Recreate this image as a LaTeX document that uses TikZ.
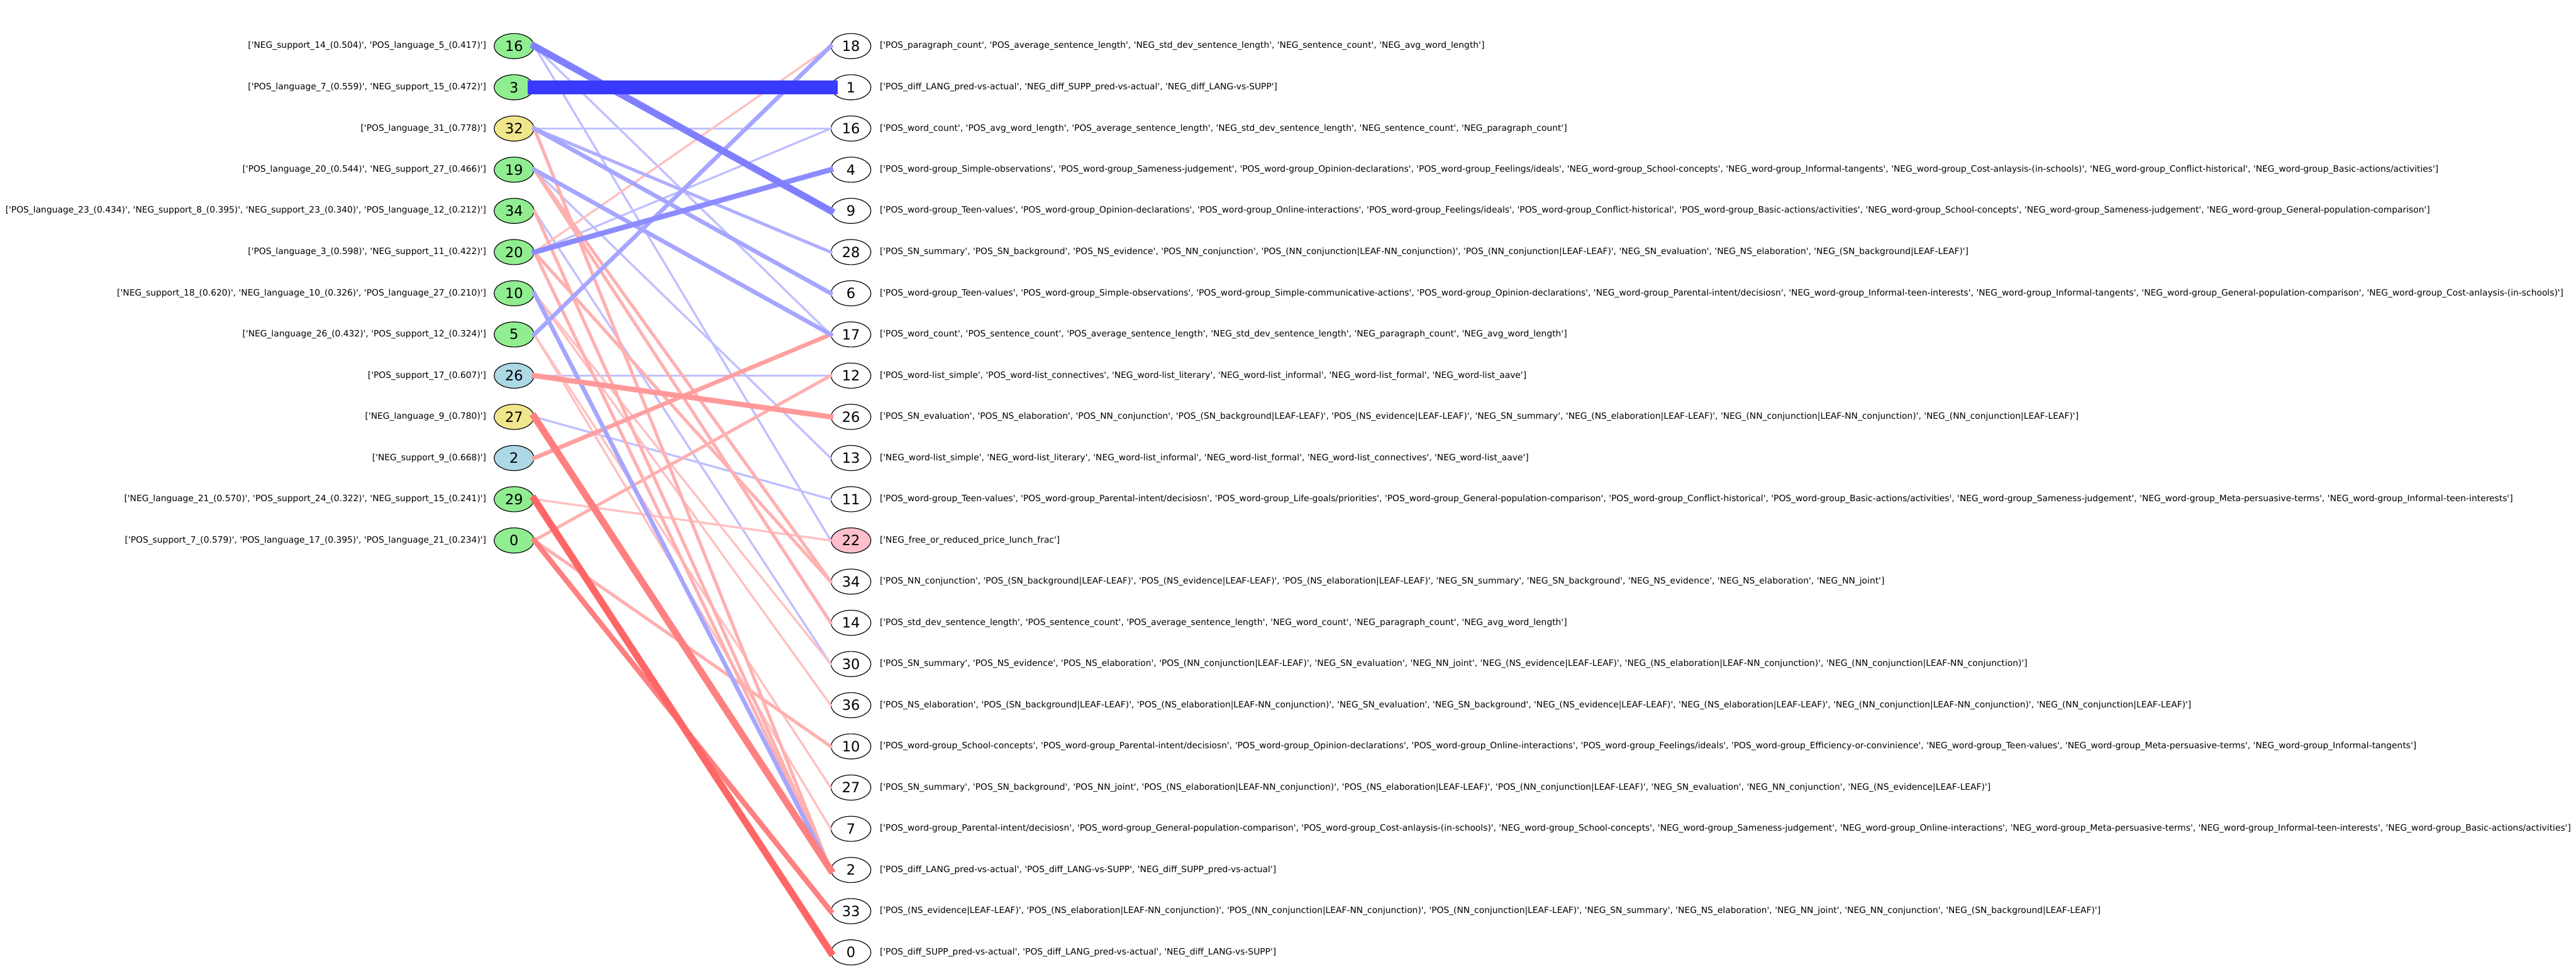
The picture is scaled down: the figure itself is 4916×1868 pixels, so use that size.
\documentclass[tikz,border=0pt]{standalone}
\usepackage{fontspec}
\newfontfamily\dv{DejaVu Sans}
\usetikzlibrary{shapes.geometric,positioning}
\definecolor{lgreen}{HTML}{90EE90}
\definecolor{lkhaki}{HTML}{F0E68C}
\definecolor{lblue}{HTML}{ADD8E6}
\definecolor{lpink}{HTML}{FFC0CB}
\definecolor{bA}{HTML}{C0C0FF}
\definecolor{bB}{HTML}{B0B0FF}
\definecolor{bC}{HTML}{A6A6FF}
\definecolor{bD}{HTML}{8C8CFF}
\definecolor{bE}{HTML}{8080FF}
\definecolor{bF}{HTML}{3A3AFF}
\definecolor{rA}{HTML}{FFC0C0}
\definecolor{rB}{HTML}{FFB0B0}
\definecolor{rC}{HTML}{FFA0A0}
\definecolor{rD}{HTML}{FF9999}
\definecolor{rE}{HTML}{FF8080}
\definecolor{rF}{HTML}{FF6666}
\begin{document}
\begin{tikzpicture}[x=0.5pt,y=-0.5pt,
  nd/.style={ellipse,draw=black,line width=0.7pt,minimum width=38pt,minimum height=24pt,inner sep=0pt,font=\dv\fontsize{13.5}{14}\selectfont},
  gn/.style={nd,fill=lgreen},
  kn/.style={nd,fill=lkhaki},
  bn/.style={nd,fill=lblue},
  wn/.style={nd,fill=white},
  pn/.style={nd,fill=lpink},
  labL/.style={inner sep=0pt,font=\dv\fontsize{8.3}{9}\selectfont},
  labR/.style={inner sep=0pt,font=\dv\fontsize{8.3}{9}\selectfont},
  ed/.style={line cap=rect},
  w1/.style={ed,line width=2pt},
  w2/.style={ed,line width=3pt},
  w3/.style={ed,line width=4pt},
  w4/.style={ed,line width=5pt},
  w5/.style={ed,line width=6.5pt},
  w6/.style={ed,line width=13pt}
]
\useasboundingbox (0,0) rectangle (4916,1868);
% left nodes
\node[gn] (l16) at (981,88) {16};
\node[gn] (l3) at (981,166.6) {3};
\node[kn] (l32) at (981,245.3) {32};
\node[gn] (l19) at (981,323.9) {19};
\node[gn] (l34) at (981,402.5) {34};
\node[gn] (l20) at (981,481.2) {20};
\node[gn] (l10) at (981,559.8) {10};
\node[gn] (l5) at (981,638.4) {5};
\node[bn] (l26) at (981,717.0) {26};
\node[kn] (l27) at (981,795.7) {27};
\node[bn] (l2) at (981,874.3) {2};
\node[gn] (l29) at (981,952.9) {29};
\node[gn] (l0) at (981,1031.6) {0};
% right nodes
\node[wn] (r18) at (1624,88) {18};
\node[wn] (r1) at (1624,166.6) {1};
\node[wn] (r16) at (1624,245.3) {16};
\node[wn] (r4) at (1624,323.9) {4};
\node[wn] (r9) at (1624,402.5) {9};
\node[wn] (r28) at (1624,481.2) {28};
\node[wn] (r6) at (1624,559.8) {6};
\node[wn] (r17) at (1624,638.4) {17};
\node[wn] (r12) at (1624,717.0) {12};
\node[wn] (r26) at (1624,795.7) {26};
\node[wn] (r13) at (1624,874.3) {13};
\node[wn] (r11) at (1624,952.9) {11};
\node[pn] (r22) at (1624,1031.6) {22};
\node[wn] (r34) at (1624,1110.2) {34};
\node[wn] (r14) at (1624,1188.8) {14};
\node[wn] (r30) at (1624,1267.5) {30};
\node[wn] (r36) at (1624,1346.1) {36};
\node[wn] (r10) at (1624,1424.7) {10};
\node[wn] (r27) at (1624,1503.3) {27};
\node[wn] (r7) at (1624,1582.0) {7};
\node[wn] (r2) at (1624,1660.6) {2};
\node[wn] (r33) at (1624,1739.2) {33};
\node[wn] (r0) at (1624,1817.9) {0};
% left labels
\node[labL,left=7pt of l16] (tl16) {['NEG\_support\_14\_(0.504)', 'POS\_language\_5\_(0.417)']};
\node[labL,left=7pt of l3] (tl3) {['POS\_language\_7\_(0.559)', 'NEG\_support\_15\_(0.472)']};
\node[labL,left=7pt of l32] (tl32) {['POS\_language\_31\_(0.778)']};
\node[labL,left=7pt of l19] (tl19) {['POS\_language\_20\_(0.544)', 'NEG\_support\_27\_(0.466)']};
\node[labL,left=7pt of l34] (tl34) {['POS\_language\_23\_(0.434)', 'NEG\_support\_8\_(0.395)', 'NEG\_support\_23\_(0.340)', 'POS\_language\_12\_(0.212)']};
\node[labL,left=7pt of l20] (tl20) {['POS\_language\_3\_(0.598)', 'NEG\_support\_11\_(0.422)']};
\node[labL,left=7pt of l10] (tl10) {['NEG\_support\_18\_(0.620)', 'NEG\_language\_10\_(0.326)', 'POS\_language\_27\_(0.210)']};
\node[labL,left=7pt of l5] (tl5) {['NEG\_language\_26\_(0.432)', 'POS\_support\_12\_(0.324)']};
\node[labL,left=7pt of l26] (tl26) {['POS\_support\_17\_(0.607)']};
\node[labL,left=7pt of l27] (tl27) {['NEG\_language\_9\_(0.780)']};
\node[labL,left=7pt of l2] (tl2) {['NEG\_support\_9\_(0.668)']};
\node[labL,left=7pt of l29] (tl29) {['NEG\_language\_21\_(0.570)', 'POS\_support\_24\_(0.322)', 'NEG\_support\_15\_(0.241)']};
\node[labL,left=7pt of l0] (tl0) {['POS\_support\_7\_(0.579)', 'POS\_language\_17\_(0.395)', 'POS\_language\_21\_(0.234)']};
% right labels
\node[labR,right=8pt of r18] (tr18) {['POS\_paragraph\_count', 'POS\_average\_sentence\_length', 'NEG\_std\_dev\_sentence\_length', 'NEG\_sentence\_count', 'NEG\_avg\_word\_length']};
\node[labR,right=8pt of r1] (tr1) {['POS\_diff\_LANG\_pred-vs-actual', 'NEG\_diff\_SUPP\_pred-vs-actual', 'NEG\_diff\_LANG-vs-SUPP']};
\node[labR,right=8pt of r16] (tr16) {['POS\_word\_count', 'POS\_avg\_word\_length', 'POS\_average\_sentence\_length', 'NEG\_std\_dev\_sentence\_length', 'NEG\_sentence\_count', 'NEG\_paragraph\_count']};
\node[labR,right=8pt of r4] (tr4) {['POS\_word-group\_Simple-observations', 'POS\_word-group\_Sameness-judgement', 'POS\_word-group\_Opinion-declarations', 'POS\_word-group\_Feelings/ideals', 'NEG\_word-group\_School-concepts', 'NEG\_word-group\_Informal-tangents', 'NEG\_word-group\_Cost-anlaysis-(in-schools)', 'NEG\_word-group\_Conflict-historical', 'NEG\_word-group\_Basic-actions/activities']};
\node[labR,right=8pt of r9] (tr9) {['POS\_word-group\_Teen-values', 'POS\_word-group\_Opinion-declarations', 'POS\_word-group\_Online-interactions', 'POS\_word-group\_Feelings/ideals', 'POS\_word-group\_Conflict-historical', 'POS\_word-group\_Basic-actions/activities', 'NEG\_word-group\_School-concepts', 'NEG\_word-group\_Sameness-judgement', 'NEG\_word-group\_General-population-comparison']};
\node[labR,right=8pt of r28] (tr28) {['POS\_SN\_summary', 'POS\_SN\_background', 'POS\_NS\_evidence', 'POS\_NN\_conjunction', 'POS\_(NN\_conjunction|LEAF-NN\_conjunction)', 'POS\_(NN\_conjunction|LEAF-LEAF)', 'NEG\_SN\_evaluation', 'NEG\_NS\_elaboration', 'NEG\_(SN\_background|LEAF-LEAF)']};
\node[labR,right=8pt of r6] (tr6) {['POS\_word-group\_Teen-values', 'POS\_word-group\_Simple-observations', 'POS\_word-group\_Simple-communicative-actions', 'POS\_word-group\_Opinion-declarations', 'NEG\_word-group\_Parental-intent/decisiosn', 'NEG\_word-group\_Informal-teen-interests', 'NEG\_word-group\_Informal-tangents', 'NEG\_word-group\_General-population-comparison', 'NEG\_word-group\_Cost-anlaysis-(in-schools)']};
\node[labR,right=8pt of r17] (tr17) {['POS\_word\_count', 'POS\_sentence\_count', 'POS\_average\_sentence\_length', 'NEG\_std\_dev\_sentence\_length', 'NEG\_paragraph\_count', 'NEG\_avg\_word\_length']};
\node[labR,right=8pt of r12] (tr12) {['POS\_word-list\_simple', 'POS\_word-list\_connectives', 'NEG\_word-list\_literary', 'NEG\_word-list\_informal', 'NEG\_word-list\_formal', 'NEG\_word-list\_aave']};
\node[labR,right=8pt of r26] (tr26) {['POS\_SN\_evaluation', 'POS\_NS\_elaboration', 'POS\_NN\_conjunction', 'POS\_(SN\_background|LEAF-LEAF)', 'POS\_(NS\_evidence|LEAF-LEAF)', 'NEG\_SN\_summary', 'NEG\_(NS\_elaboration|LEAF-LEAF)', 'NEG\_(NN\_conjunction|LEAF-NN\_conjunction)', 'NEG\_(NN\_conjunction|LEAF-LEAF)']};
\node[labR,right=8pt of r13] (tr13) {['NEG\_word-list\_simple', 'NEG\_word-list\_literary', 'NEG\_word-list\_informal', 'NEG\_word-list\_formal', 'NEG\_word-list\_connectives', 'NEG\_word-list\_aave']};
\node[labR,right=8pt of r11] (tr11) {['POS\_word-group\_Teen-values', 'POS\_word-group\_Parental-intent/decisiosn', 'POS\_word-group\_Life-goals/priorities', 'POS\_word-group\_General-population-comparison', 'POS\_word-group\_Conflict-historical', 'POS\_word-group\_Basic-actions/activities', 'NEG\_word-group\_Sameness-judgement', 'NEG\_word-group\_Meta-persuasive-terms', 'NEG\_word-group\_Informal-teen-interests']};
\node[labR,right=8pt of r22] (tr22) {['NEG\_free\_or\_reduced\_price\_lunch\_frac']};
\node[labR,right=8pt of r34] (tr34) {['POS\_NN\_conjunction', 'POS\_(SN\_background|LEAF-LEAF)', 'POS\_(NS\_evidence|LEAF-LEAF)', 'POS\_(NS\_elaboration|LEAF-LEAF)', 'NEG\_SN\_summary', 'NEG\_SN\_background', 'NEG\_NS\_evidence', 'NEG\_NS\_elaboration', 'NEG\_NN\_joint']};
\node[labR,right=8pt of r14] (tr14) {['POS\_std\_dev\_sentence\_length', 'POS\_sentence\_count', 'POS\_average\_sentence\_length', 'NEG\_word\_count', 'NEG\_paragraph\_count', 'NEG\_avg\_word\_length']};
\node[labR,right=8pt of r30] (tr30) {['POS\_SN\_summary', 'POS\_NS\_evidence', 'POS\_NS\_elaboration', 'POS\_(NN\_conjunction|LEAF-LEAF)', 'NEG\_SN\_evaluation', 'NEG\_NN\_joint', 'NEG\_(NS\_evidence|LEAF-LEAF)', 'NEG\_(NS\_elaboration|LEAF-NN\_conjunction)', 'NEG\_(NN\_conjunction|LEAF-NN\_conjunction)']};
\node[labR,right=8pt of r36] (tr36) {['POS\_NS\_elaboration', 'POS\_(SN\_background|LEAF-LEAF)', 'POS\_(NS\_elaboration|LEAF-NN\_conjunction)', 'NEG\_SN\_evaluation', 'NEG\_SN\_background', 'NEG\_(NS\_evidence|LEAF-LEAF)', 'NEG\_(NS\_elaboration|LEAF-LEAF)', 'NEG\_(NN\_conjunction|LEAF-NN\_conjunction)', 'NEG\_(NN\_conjunction|LEAF-LEAF)']};
\node[labR,right=8pt of r10] (tr10) {['POS\_word-group\_School-concepts', 'POS\_word-group\_Parental-intent/decisiosn', 'POS\_word-group\_Opinion-declarations', 'POS\_word-group\_Online-interactions', 'POS\_word-group\_Feelings/ideals', 'POS\_word-group\_Efficiency-or-convinience', 'NEG\_word-group\_Teen-values', 'NEG\_word-group\_Meta-persuasive-terms', 'NEG\_word-group\_Informal-tangents']};
\node[labR,right=8pt of r27] (tr27) {['POS\_SN\_summary', 'POS\_SN\_background', 'POS\_NN\_joint', 'POS\_(NS\_elaboration|LEAF-NN\_conjunction)', 'POS\_(NS\_elaboration|LEAF-LEAF)', 'POS\_(NN\_conjunction|LEAF-LEAF)', 'NEG\_SN\_evaluation', 'NEG\_NN\_conjunction', 'NEG\_(NS\_evidence|LEAF-LEAF)']};
\node[labR,right=8pt of r7] (tr7) {['POS\_word-group\_Parental-intent/decisiosn', 'POS\_word-group\_General-population-comparison', 'POS\_word-group\_Cost-anlaysis-(in-schools)', 'NEG\_word-group\_School-concepts', 'NEG\_word-group\_Sameness-judgement', 'NEG\_word-group\_Online-interactions', 'NEG\_word-group\_Meta-persuasive-terms', 'NEG\_word-group\_Informal-teen-interests', 'NEG\_word-group\_Basic-actions/activities']};
\node[labR,right=8pt of r2] (tr2) {['POS\_diff\_LANG\_pred-vs-actual', 'POS\_diff\_LANG-vs-SUPP', 'NEG\_diff\_SUPP\_pred-vs-actual']};
\node[labR,right=8pt of r33] (tr33) {['POS\_(NS\_evidence|LEAF-LEAF)', 'POS\_(NS\_elaboration|LEAF-NN\_conjunction)', 'POS\_(NN\_conjunction|LEAF-NN\_conjunction)', 'POS\_(NN\_conjunction|LEAF-LEAF)', 'NEG\_SN\_summary', 'NEG\_NS\_elaboration', 'NEG\_NN\_joint', 'NEG\_NN\_conjunction', 'NEG\_(SN\_background|LEAF-LEAF)']};
\node[labR,right=8pt of r0] (tr0) {['POS\_diff\_SUPP\_pred-vs-actual', 'POS\_diff\_LANG\_pred-vs-actual', 'NEG\_diff\_LANG-vs-SUPP']};
% edges
\draw[w1,bA] (l16.east) -- (r17.west);
\draw[w1,bA] (l16.east) -- (r22.west);
\draw[w1,bA] (l32.east) -- (r16.west);
\draw[w1,bA] (l20.east) -- (r16.west);
\draw[w1,bA] (l26.east) -- (r12.west);
\draw[w1,bA] (l27.east) -- (r11.west);
\draw[w1,bA] (l19.east) -- (r13.west);
\draw[w1,bA] (l34.east) -- (r30.west);
\draw[w1,rA] (l20.east) -- (r18.west);
\draw[w1,rA] (l29.east) -- (r22.west);
\draw[w1,rA] (l10.east) -- (r30.west);
\draw[w1,rA] (l10.east) -- (r36.west);
\draw[w1,rA] (l5.east) -- (r27.west);
\draw[w1,rA] (l5.east) -- (r7.west);
\draw[w2,rB] (l19.east) -- (r14.west);
\draw[w2,rB] (l19.east) -- (r34.west);
\draw[w2,rB] (l34.east) -- (r2.west);
\draw[w2,rB] (l20.east) -- (r2.west);
\draw[w2,rB] (l20.east) -- (r34.west);
\draw[w2,rB] (l32.east) -- (r2.west);
\draw[w2,rB] (l0.east) -- (r10.west);
\draw[w2,rB] (l0.east) -- (r12.west);
\draw[w2,bB] (l32.east) -- (r28.west);
\draw[w3,rC] (l2.east) -- (r17.west);
\draw[w3,bC] (l10.east) -- (r2.west);
\draw[w3,bC] (l32.east) -- (r6.west);
\draw[w3,bC] (l19.east) -- (r17.west);
\draw[w3,bC] (l5.east) -- (r18.west);
\draw[w4,rD] (l26.east) -- (r26.west);
\draw[w4,bD] (l20.east) -- (r4.west);
\draw[w5,bE] (l16.east) -- (r9.west);
\draw[w4,rE] (l0.east) -- (r33.west);
\draw[w5,rE] (l27.east) -- (r2.west);
\draw[w5,rF] (l29.east) -- (r0.west);
\draw[w6,bF] (l3.east) -- (r1.west);
\end{tikzpicture}
\end{document}
